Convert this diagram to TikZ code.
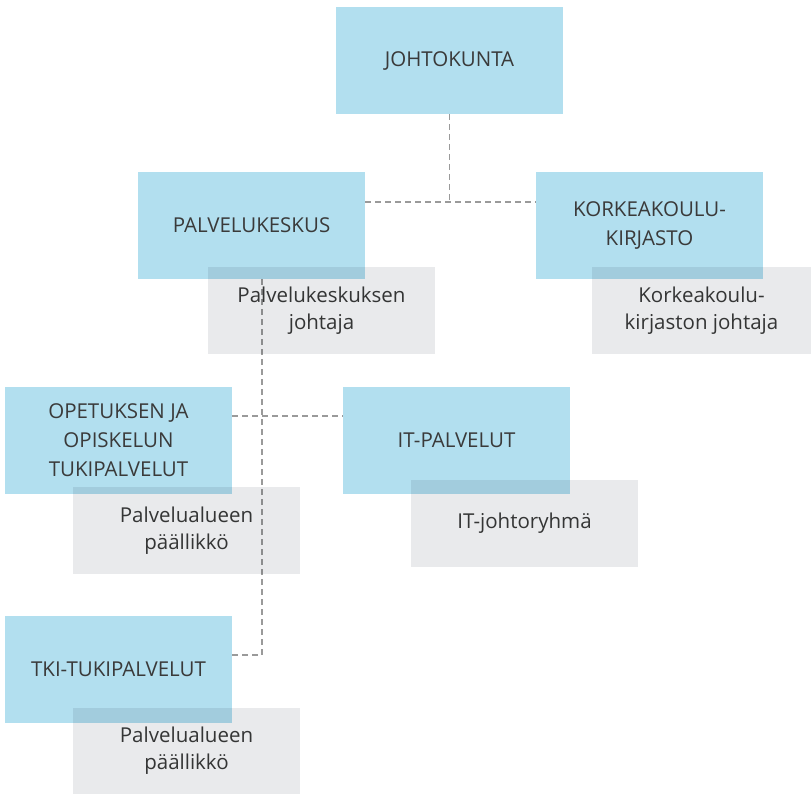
\documentclass[tikz,border=0pt]{standalone}
\usepackage{fontspec}
\setmainfont{Open Sans}
\usetikzlibrary{positioning}
\definecolor{unitblue}{HTML}{B2DFEF}
\definecolor{headgray}{HTML}{E9EAEC}
\definecolor{linegray}{HTML}{9A9A9A}
\definecolor{textgray}{HTML}{3A3A3A}

\begin{document}
\begin{tikzpicture}[x=1pt, y=-1pt,
  unitbox/.style={fill=unitblue, minimum width=227pt, minimum height=107pt,
    inner sep=0pt, align=center, text=textgray, font=\fontsize{20.5}{29}\selectfont},
  headbox/.style={fill=headgray, minimum width=227pt, minimum height=87pt,
    inner sep=0pt, align=center, text=textgray, font=\fontsize{20.5}{27}\selectfont},
  link/.style={draw=linegray, line width=1.9pt, dash pattern=on 6pt off 4pt}]
\useasboundingbox (0,0) rectangle (811,793);

% units
\node[unitbox] (board) at (449.5,60.5) {JOHTOKUNTA};
\node[unitbox] (center) at (251.5,225.5) {PALVELUKESKUS};
\node[unitbox] (library) at (649.5,225.5) {KORKEAKOULU-\\KIRJASTO};
\node[unitbox] (teaching) at (118.5,440.5) {OPETUKSEN JA\\OPISKELUN\\TUKIPALVELUT};
\node[unitbox] (it) at (456.5,440.5) {IT-PALVELUT};
\node[unitbox] (rdi) at (118.5,669.5) {TKI-TUKIPALVELUT};

% connectors
\coordinate (split) at (board.south |- 0,202);
\coordinate (trunkend) at (262,655);
\draw[link] (board.south) -- (split);
\draw[link] (center.east |- split) -- (library.west |- split);
\draw[link] (262,279) -- (trunkend) -- (rdi.east |- trunkend);
\draw[link] (teaching.east |- 0,416) -- (it.west |- 0,416);

% heads
\begin{scope}[blend mode=multiply]
\node[headbox] (centerhead) at (321.5,310.5) {Palvelukeskuksen\\johtaja};
\node[headbox, minimum width=219pt] (libraryhead) at (701.5,310.5) {Korkeakoulu-\\kirjaston johtaja};
\node[headbox] (teachinghead) at (186.5,530.5) {Palvelualueen\\päällikkö};
\node[headbox] (ithead) at (524.5,523.5) {IT-johtoryhmä};
\node[headbox] (rdihead) at (186.5,751) {Palvelualueen\\päällikkö};
\end{scope}
\end{tikzpicture}
\end{document}
